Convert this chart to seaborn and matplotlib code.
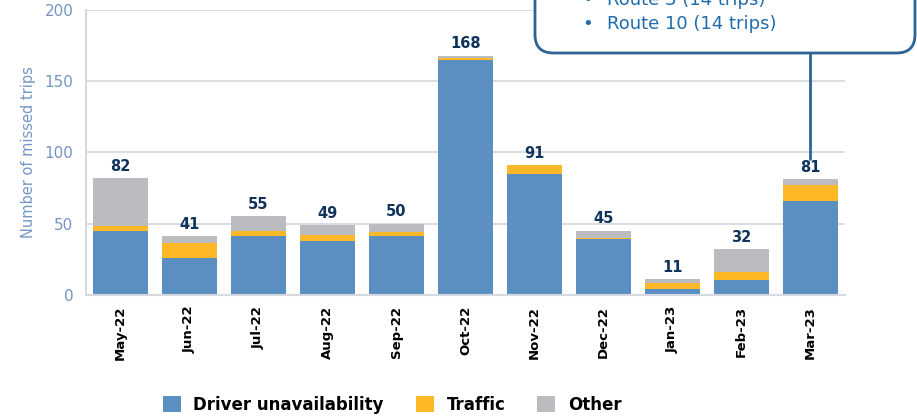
import pandas as pd
import matplotlib.pyplot as plt
import seaborn as sns
from matplotlib.patches import Patch, FancyBboxPatch

sns.set_style('white')
plt.rcParams['font.family'] = ['DejaVu Sans']

# data
months = ['May-22', 'Jun-22', 'Jul-22', 'Aug-22', 'Sep-22', 'Oct-22',
          'Nov-22', 'Dec-22', 'Jan-23', 'Feb-23', 'Mar-23']
driver = [45, 26, 41, 38, 41, 165, 85, 39, 4, 10, 66]
traffic = [3, 10, 4, 4, 3, 1, 6, 1, 4, 6, 11]
other = [34, 5, 10, 7, 6, 2, 0, 5, 3, 16, 4]
series_names = ['Driver unavailability', 'Traffic', 'Other']
callout_lines = ['Route 3 (14 trips)', 'Route 10 (14 trips)']

BLUE = '#5b8fc2'
YELLOW = '#fcb827'
GREY = '#bbbcc0'
NAVY = '#10335b'
TICK_BLUE = '#7396c4'
GRID = '#d6d9df'
BOX_EDGE = '#2d6494'
BOX_TEXT = '#1f6cab'

df = pd.DataFrame({'month': months, 'driver': driver,
                   'traffic': traffic, 'other': other})
df['driver_traffic'] = df['driver'] + df['traffic']
df['total'] = df['driver_traffic'] + df['other']

fig = plt.figure(figsize=(9.17, 4.17), dpi=100)
ax = fig.add_axes([0.0938, 0.2933, 0.8277, 0.6827])

# stacked bars: draw cumulative totals back to front
for col, colour in [('total', GREY), ('driver_traffic', YELLOW), ('driver', BLUE)]:
    sns.barplot(data=df, x='month', y=col, color=colour, saturation=1,
                width=0.81, errorbar=None, ax=ax, zorder=2, linewidth=0)

ax.bar_label(ax.containers[0], labels=df['total'].astype(str), padding=3,
             fontsize=10.5, fontweight='bold', color=NAVY)

ax.set_xlim(-0.5, len(months) - 0.5)
ax.set_ylim(0, 200)
ax.set_yticks([0, 50, 100, 150, 200])
ax.yaxis.grid(True, color=GRID, lw=1.3)
ax.set_axisbelow(True)
for side in ['top', 'right']:
    ax.spines[side].set_visible(False)
for side in ['left', 'bottom']:
    ax.spines[side].set_color(GRID)
    ax.spines[side].set_linewidth(1.5)

ax.tick_params(axis='y', length=0, labelsize=11, labelcolor=TICK_BLUE, pad=9)
ax.tick_params(axis='x', length=0, pad=8)
ax.set_xticks(range(len(months)))
ax.set_xticklabels(months, rotation=90, fontsize=9.5, fontweight='bold', color='black')
ax.set_xlabel('')
ax.set_ylabel('Number of missed trips', fontsize=10.5, color=TICK_BLUE, labelpad=6)

handles = [Patch(facecolor=c, edgecolor='none') for c in [BLUE, YELLOW, GREY]]
leg = fig.legend(handles, series_names, loc='center', bbox_to_anchor=(392 / 917, 1 - 405 / 417),
                 ncol=3, frameon=False, prop={'weight': 'bold', 'size': 12},
                 handlelength=1.1, handleheight=1.1, handletextpad=0.75, columnspacing=1.9)
for t in leg.get_texts():
    t.set_color('black')

# callout box (cut off at the top of the figure, as in the original)
box_bottom = 1 - 53 / 417
box = FancyBboxPatch((535 / 917, box_bottom), 380 / 917, 0.3,
                     boxstyle='round,pad=0,rounding_size=0.02', mutation_aspect=917 / 417,
                     transform=fig.transFigure, facecolor='white', edgecolor=BOX_EDGE,
                     lw=2, clip_on=False, zorder=5)
fig.add_artist(box)
for i, line in enumerate(callout_lines):
    y = 1 - (5 + 24 * i) / 417
    fig.text(582 / 917, y, '\u2022', color=BOX_TEXT, fontsize=13, va='baseline', zorder=6)
    fig.text(607 / 917, y, line, color=BOX_TEXT, fontsize=13, va='baseline', zorder=6)

ax.annotate('', xy=(len(months) - 1, df['total'].iloc[-1] + 14),
            xytext=(len(months) - 1, box_bottom), textcoords=('data', 'figure fraction'),
            arrowprops=dict(arrowstyle='-', color=BOX_EDGE, lw=2, shrinkA=0, shrinkB=0),
            annotation_clip=False)

fig.savefig('out.png', dpi=100)
